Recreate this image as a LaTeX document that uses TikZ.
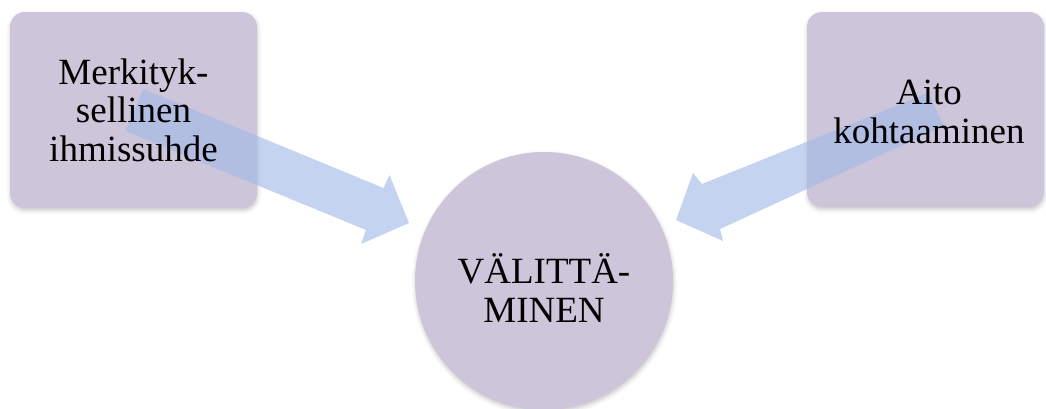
\documentclass[tikz,border=0pt]{standalone}
\usepackage{fontspec}
\setmainfont{Liberation Serif}
\usetikzlibrary{shadows.blur}
\definecolor{boxfill}{RGB}{205,197,218}
\definecolor{arrowfill}{RGB}{160,186,230}
\begin{document}
\begin{tikzpicture}[x=1pt,y=-1pt,
  softshadow/.style={blur shadow={shadow xshift=0.5pt,shadow yshift=-2.5pt,
      shadow blur radius=4pt,shadow opacity=22}},
  panel/.style={fill=boxfill,draw=none,rounded corners=15pt,softshadow,
      inner sep=0pt},
  disc/.style={circle,fill=boxfill,draw=none,softshadow,inner sep=0pt,
      minimum size=258pt},
  txt/.style={font=\fontsize{37}{38.5}\selectfont,align=center,text=black,
      inner sep=0pt},
  blockarrow/.style={fill=arrowfill,fill opacity=0.62,draw=none},
]
\useasboundingbox (0,0) rectangle (1046,408);

% the two source boxes and the central circle
\node[panel,minimum width=247pt,minimum height=196pt] (m) at (133.5,110) {};
\node[panel,minimum width=237pt,minimum height=195pt] (a) at (925.5,109.5) {};
\node[disc] (v) at (544,281) {};

% block arrow from the left box towards the circle
\coordinate (l1) at (143.5,89);
\coordinate (l2) at (383.5,188);
\coordinate (l3) at (389.5,175);
\coordinate (l4) at (409,223);
\coordinate (l5) at (361,244);
\coordinate (l6) at (366,230);
\coordinate (l7) at (125.5,131);
\fill[blockarrow] (l1) -- (l2) -- (l3) -- (l4) -- (l5) -- (l6) -- (l7) -- cycle;

% block arrow from the right box towards the circle
\coordinate (r1) at (928,93);
\coordinate (r2) at (702,184);
\coordinate (r3) at (693,173);
\coordinate (r4) at (676,220);
\coordinate (r5) at (723,241);
\coordinate (r6) at (720,229);
\coordinate (r7) at (944,126);
\fill[blockarrow] (r1) -- (r2) -- (r3) -- (r4) -- (r5) -- (r6) -- (r7) -- cycle;

% labels on top of everything
\node[txt] (mt) at (m.center) {Merkityk-\\sellinen\\ihmissuhde};
\node[txt] (at) at (929,112) {Aito\\kohtaaminen};
\node[txt] (vt) at (544,288) {VÄLITTÄ-\\MINEN};
\end{tikzpicture}
\end{document}
